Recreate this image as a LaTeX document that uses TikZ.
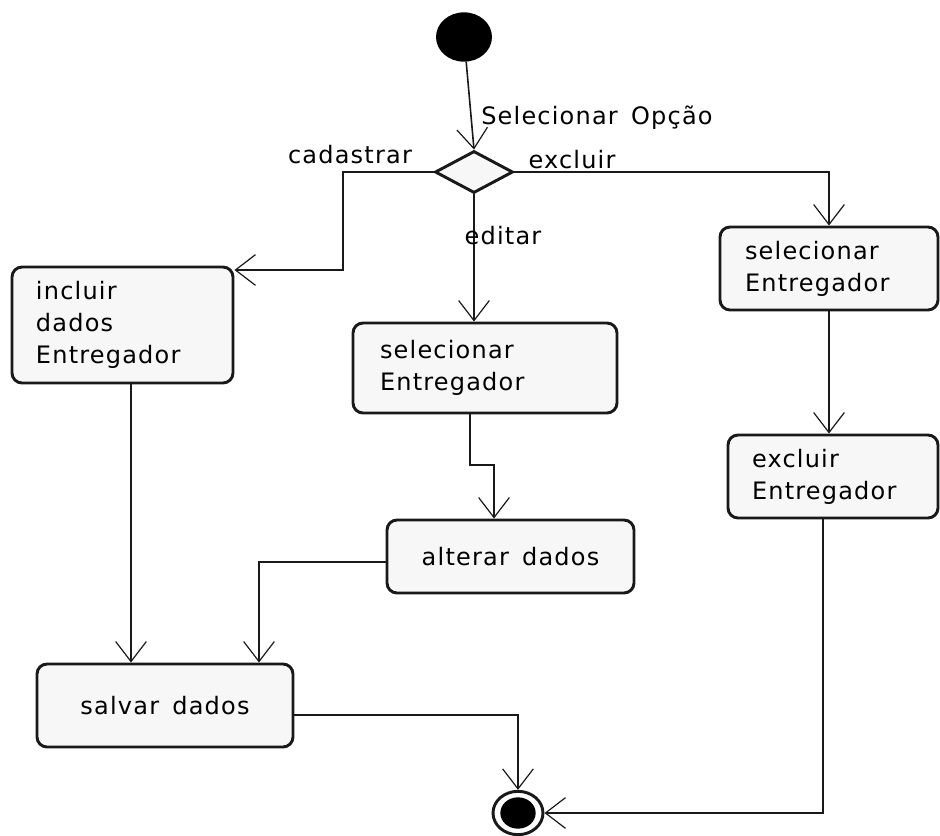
\documentclass[tikz,border=0pt]{standalone}
\usepackage{fontspec}
\setmainfont{DejaVu Sans}[LetterSpace=5,WordSpace=1.5]
\usetikzlibrary{arrows.meta,shapes.geometric}
\newcommand{\wsp}{\hspace{0.55em}}
\begin{document}
\begin{tikzpicture}[x=0.75pt,y=-0.75pt,
  every node/.style={font=\fontsize{18}{24}\selectfont},
  abox/.style={draw=black!90, line width=2.2pt, rounded corners=7.5pt, fill=black!3, inner ysep=0pt},
  lbox/.style={abox, align=left},
  cbox/.style={abox, align=center},
  conn/.style={line width=1.2pt, draw=black!90},
  arr/.style={conn, -{Straight Barb[length=15pt,width=23pt,line width=0.9pt]}},
  lab/.style={inner sep=0pt}
]
\useasboundingbox (0,0) rectangle (940,836);

% initial and decision
\node[ellipse, fill=black, minimum width=42pt, minimum height=37pt, inner sep=0pt] (start) at (464,37) {};
\node[diamond, draw=black!90, line width=2.2pt, fill=black!3, minimum width=58.5pt, minimum height=31.5pt, inner sep=0pt] (dia) at (474,172) {};

% actions
\node[lbox, text width=129.75pt, inner xsep=18pt, minimum height=87pt] (b1) at (122.5,325) {incluir\\dados\\Entregador};
\node[lbox, text width=157.5pt, inner xsep=20.25pt, minimum height=67.5pt] (b2) at (485,368) {selecionar\\Entregador};
\node[lbox, text width=126pt, inner xsep=18.75pt, minimum height=62.25pt] (b3) at (829,268.5) {selecionar\\Entregador};
\node[lbox, text width=121.5pt, inner xsep=18pt, minimum height=62.25pt] (b4) at (833,476.5) {excluir\\Entregador};
\node[cbox, text width=170.25pt, inner xsep=7.5pt, minimum height=54.75pt] (b5) at (510.5,556.5) {alterar\wsp dados};
\node[cbox, text width=177pt, inner xsep=7.5pt, minimum height=62.25pt] (b6) at (165,705.5) {salvar\wsp dados};

% final
\node[ellipse, draw=black!90, line width=2.2pt, fill=white, minimum width=37.5pt, minimum height=32.5pt, inner sep=0pt] (fin) at (518,813) {};
\node[ellipse, fill=black, minimum width=26.5pt, minimum height=23.5pt, inner sep=0pt] (finc) at (fin.center) {};

% labels
\node[lab, anchor=west] (l1) at (481,118) {Selecionar Opção};
\node[lab] (l2) at (350,155) {cadastrar};
\node[lab] (l3) at (572,160) {excluir};

% bend points
\coordinate (k1) at (343,270);
\coordinate (k2) at (470,465);
\coordinate (k3) at (494,465);
\coordinate (k4) at (259,562);
\coordinate (k5) at (518,715);
\coordinate (k6) at (823,813);
\coordinate (k7) at (131,383);

% connectors
\draw[arr] (start) -- (dia.north);
\draw[arr] (dia.west) -| (k1) -- (k1 -| b1.east);
\draw[arr] (dia.south) -- (dia.south |- b2.north);
\node[lab] (l4) at (503,236) {editar};
\draw[arr] (dia.east) -| (b3.north);
\draw[arr] (b3.south) -- (b3.south |- b4.north);
\draw[arr] (k2 |- b2.south) -- (k2) -- (k3) -- (k3 |- b5.north);
\draw[arr] (k4 -| b5.west) -- (k4) -- (k4 |- b6.north);
\draw[arr] (k7 |- b1.south) -- (k7 |- b6.north);
\draw[arr] (k5 -| b6.east) -- (k5) -- (k5 |- fin.north);
\draw[arr] (k6 |- b4.south) -- (k6) -- (fin.east);
\end{tikzpicture}
\end{document}
